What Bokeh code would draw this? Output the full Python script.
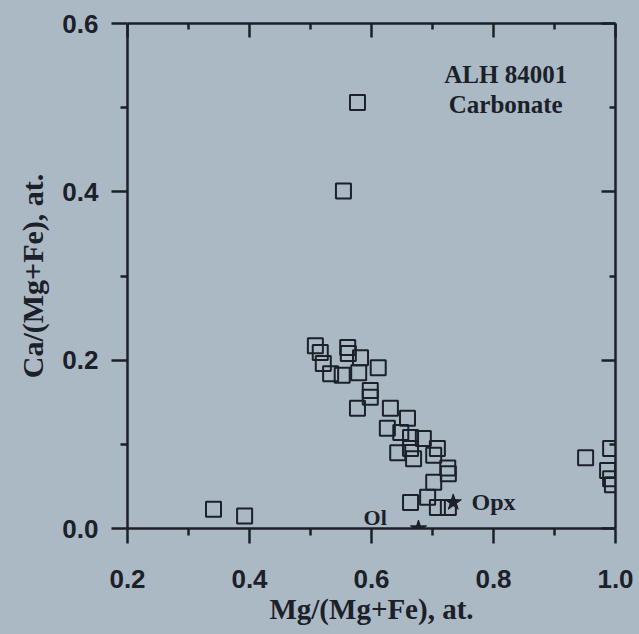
from bokeh.plotting import figure
from bokeh.models import FixedTicker, LinearAxis, Range1d, PrintfTickFormatter
from bokeh.embed import file_html
from bokeh.resources import INLINE
from bokeh.core.properties import value

# Carbonate analyses (squares)
carb_x = [0.577, 0.554, 0.341, 0.392,
          0.951, 0.992, 0.987, 0.992, 0.995,
          0.508, 0.516, 0.561, 0.562, 0.582, 0.521, 0.533, 0.552, 0.579, 0.611,
          0.598, 0.598, 0.577, 0.631, 0.659, 0.626, 0.648, 0.664, 0.685, 0.643,
          0.664, 0.708, 0.669, 0.725, 0.702, 0.726, 0.664, 0.692, 0.708, 0.726, 0.702]
carb_y = [0.506, 0.401, 0.023, 0.015,
          0.084, 0.095, 0.069, 0.059, 0.052,
          0.217, 0.209, 0.215, 0.208, 0.203, 0.196, 0.184, 0.182, 0.185, 0.191,
          0.164, 0.156, 0.143, 0.143, 0.131, 0.119, 0.114, 0.108, 0.107, 0.090,
          0.095, 0.095, 0.083, 0.072, 0.055, 0.065, 0.031, 0.037, 0.025, 0.025, 0.087]

# Silicate compositions (stars)
min_names = ["Ol", "Opx"]
min_x = [0.677, 0.734]
min_y = [0.0, 0.031]

x_ticks = [0.2, 0.4, 0.6, 0.8, 1.0]
x_minor = [0.3, 0.5, 0.7, 0.9]
y_ticks = [0.0, 0.2, 0.4, 0.6]
y_minor = [0.1, 0.3, 0.5]

BG = "#abb9c5"
INK = "#1b2029"

p = figure(width=639, height=634, output_backend="svg", toolbar_location=None,
           x_range=Range1d(0.2, 1.0), y_range=Range1d(0.0, 0.6),
           min_border_left=127, min_border_right=24, min_border_top=23, min_border_bottom=106,
           background_fill_color=BG, border_fill_color=BG)
p.grid.visible = False
p.outline_line_color = None

def style_axis(ax, labels=True, out_major=15, out_minor=7, in_major=0, in_minor=0, ticks=None, minor=None):
    ax.ticker = FixedTicker(ticks=ticks, minor_ticks=minor)
    ax.axis_line_color = INK
    ax.axis_line_width = 2.5
    ax.major_tick_line_color = INK
    ax.major_tick_line_width = 2.5
    ax.minor_tick_line_color = INK
    ax.minor_tick_line_width = 2.5
    ax.major_tick_out = out_major
    ax.major_tick_in = in_major
    ax.minor_tick_out = out_minor
    ax.minor_tick_in = in_minor
    if labels:
        ax.formatter = PrintfTickFormatter(format="%.1f")
        ax.major_label_text_font = "Liberation Sans"
        ax.major_label_text_font_style = "bold"
        ax.major_label_text_font_size = "26px"
        ax.major_label_text_color = INK
    else:
        ax.major_label_text_font_size = "0px"
        ax.major_label_text_alpha = 0

xa = p.xaxis[0]
style_axis(xa, ticks=x_ticks, minor=x_minor, out_major=15, out_minor=7)
xa.major_label_standoff = 26
xa.axis_label = "Mg/(Mg+Fe), at."
xa.axis_label_text_font = "Liberation Serif"
xa.axis_label_text_font_style = "bold"
xa.axis_label_text_font_size = "29px"
xa.axis_label_text_color = INK
xa.axis_label_standoff = 2

ya = p.yaxis[0]
style_axis(ya, ticks=y_ticks, minor=y_minor, out_major=16, out_minor=7)
ya.major_label_standoff = 13
ya.axis_label = "Ca/(Mg+Fe), at."
ya.axis_label_text_font = "Liberation Serif"
ya.axis_label_text_font_style = "bold"
ya.axis_label_text_font_size = "30px"
ya.axis_label_text_color = INK
ya.axis_label_standoff = 10

ta = LinearAxis()
style_axis(ta, labels=False, ticks=x_ticks, minor=x_minor, out_major=0, out_minor=0, in_major=14, in_minor=6)
p.add_layout(ta, "above")
ra = LinearAxis()
style_axis(ra, labels=False, ticks=y_ticks, minor=y_minor, out_major=0, out_minor=0, in_major=14, in_minor=6)
p.add_layout(ra, "right")

p.scatter(carb_x, carb_y, marker="square", size=15, fill_alpha=0,
          line_color=INK, line_width=2)
p.scatter(min_x, min_y, marker="star", size=17, fill_color=INK, line_color=INK)

p.text(x=[0.587], y=[0.013], text=["Ol"], text_font=value("Liberation Serif"),
       text_font_style="bold", text_font_size="22px", text_color=INK,
       text_align="left", text_baseline="middle")
p.text(x=[0.764], y=[0.031], text=["Opx"], text_font=value("Liberation Serif"),
       text_font_style="bold", text_font_size="24px", text_color=INK,
       text_align="left", text_baseline="middle")
p.text(x=[0.82, 0.82], y=[0.540, 0.504], text=["ALH 84001", "Carbonate"],
       text_font=value("Liberation Serif"), text_font_style="bold",
       text_font_size="25px", text_color=INK,
       text_align="center", text_baseline="alphabetic")

html = file_html(p, INLINE)
html = html.replace("<body>", '<body style="background-color:%s;">' % BG)
open("out.html", "w").write(html)
